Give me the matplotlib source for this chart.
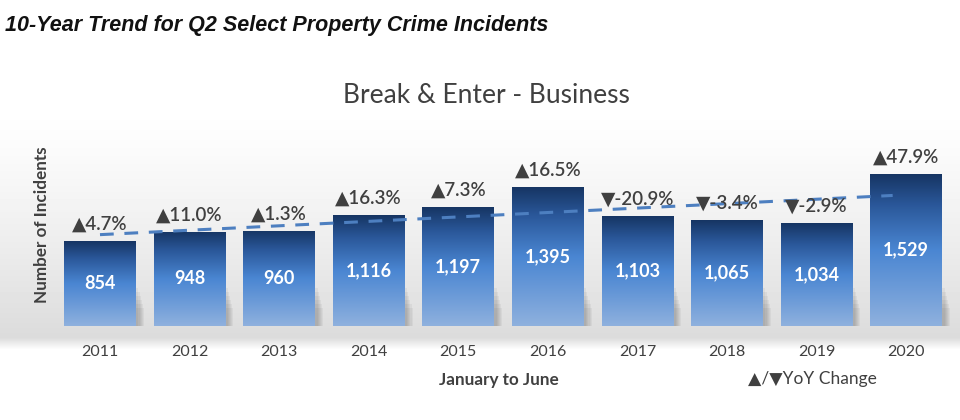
import numpy as np
import matplotlib
matplotlib.use("Agg")
import matplotlib.pyplot as plt
from matplotlib.colors import LinearSegmentedColormap
from matplotlib.patches import Rectangle

years = ["2011", "2012", "2013", "2014", "2015", "2016", "2017", "2018", "2019", "2020"]
incidents = [854, 948, 960, 1116, 1197, 1395, 1103, 1065, 1034, 1529]
yoy_change = [4.7, 11.0, 1.3, 16.3, 7.3, 16.5, -20.9, -3.4, -2.9, 47.9]

TXT = "#404040"
FAM = ["Lato", "DejaVu Sans"]

fig = plt.figure(figsize=(9.6, 4.2), dpi=100)

# background gray band gradient
bg = fig.add_axes([0, 0, 1, 1], zorder=0)
bg.set_axis_off()
ys = np.linspace(0, 1, 420)
vals = np.ones_like(ys)
for i, y in enumerate(ys):
    px = (1 - y) * 420
    if 105 <= px <= 338:
        vals[i] = 1 - 0.14 * ((px - 105) / 233) ** 1.3
    elif 338 < px <= 350:
        vals[i] = 0.86 + 0.14 * (px - 338) / 12
grad = np.tile(vals[:, None], (1, 10))
bg.imshow(grad, cmap="gray", vmin=0, vmax=1, aspect="auto", extent=[0, 1, 0, 1], origin="lower")
bg.set_xlim(0, 1); bg.set_ylim(0, 1)

ax = fig.add_axes([0.0575, 0.224, 0.933, 0.52], zorder=1)
ax.patch.set_alpha(0)
x = np.arange(len(years))
ax.set_xlim(-0.5, len(years) - 0.5)
for s in ax.spines.values():
    s.set_visible(False)
ax.set_yticks([])
ax.tick_params(axis="x", length=0, pad=14)
ax.set_xticks(x)
ax.set_xticklabels(years, fontsize=11.5, color=TXT, family=FAM)

cmap = LinearSegmentedColormap.from_list(
    "bar", [(0.0, "#8fb1de"), (0.25, "#6c9bd8"), (0.5, "#4a86d2"), (0.8, "#2a5799"), (1.0, "#163563")])
w = 0.8
grad_img = np.linspace(0, 1, 256)[:, None]
for xi, v in zip(x, incidents):
    for k in range(6):
        sh = Rectangle((xi - w / 2 + 0.03 + k * 0.012, 0), w, 380 - k * 40,
                       facecolor="#444444", alpha=0.06, edgecolor="none", zorder=1.5)
        ax.add_patch(sh)
    rect = Rectangle((xi - w / 2, 0), w, v, facecolor="none", edgecolor="none", zorder=2)
    ax.add_patch(rect)
    im = ax.imshow(grad_img, cmap=cmap, aspect="auto", origin="lower",
                   extent=[xi - w / 2, xi + w / 2, 0, v], zorder=2)
    im.set_clip_path(rect)
    ax.text(xi, v / 2, f"{v:,}", ha="center", va="center", color="white",
            fontsize=13, fontweight="bold", family=FAM, zorder=4)

# trend line (linear fit)
coef = np.polyfit(x, incidents, 1)
tx = np.array([0, len(years) - 1.15])
ax.plot(tx, np.polyval(coef, tx), linestyle=(0, (4.5, 3.5)), color="#4d7fc0", lw=2.2, zorder=3)

for xi, v, c in zip(x, incidents, yoy_change):
    sym = "▲" if c >= 0 else "▼"
    ax.annotate(f"{sym}{c:.1f}%", (xi, v), xytext=(0, 6), textcoords="offset points",
                ha="center", va="bottom", fontsize=13.5, color=TXT, family=FAM,
                fontweight="semibold", zorder=4)

ax.set_ylim(0, 2200)

fig.text(0.005, 0.94, "10-Year Trend for Q2 Select Property Crime Incidents", fontsize=15.5,
         fontweight="bold", fontstyle="italic", family=["Liberation Sans", "DejaVu Sans"],
         color="#111111", ha="left", va="center")
fig.text(0.507, 0.772, "Break & Enter - Business", fontsize=19, color=TXT, family=FAM,
         ha="center", va="center")
fig.text(0.044, 0.465, "Number of Incidents", rotation=90, fontsize=12.3, fontweight="bold",
         color=TXT, family=FAM, ha="center", va="center")
fig.text(0.520, 0.095, "January to June", fontsize=12.3, fontweight="bold", color=TXT,
         family=FAM, ha="center", va="center")
fig.text(0.846, 0.097, "▲/▼YoY Change", fontsize=12.5, color=TXT,
         family=FAM, ha="center", va="center")

fig.savefig("out.png", dpi=100)
